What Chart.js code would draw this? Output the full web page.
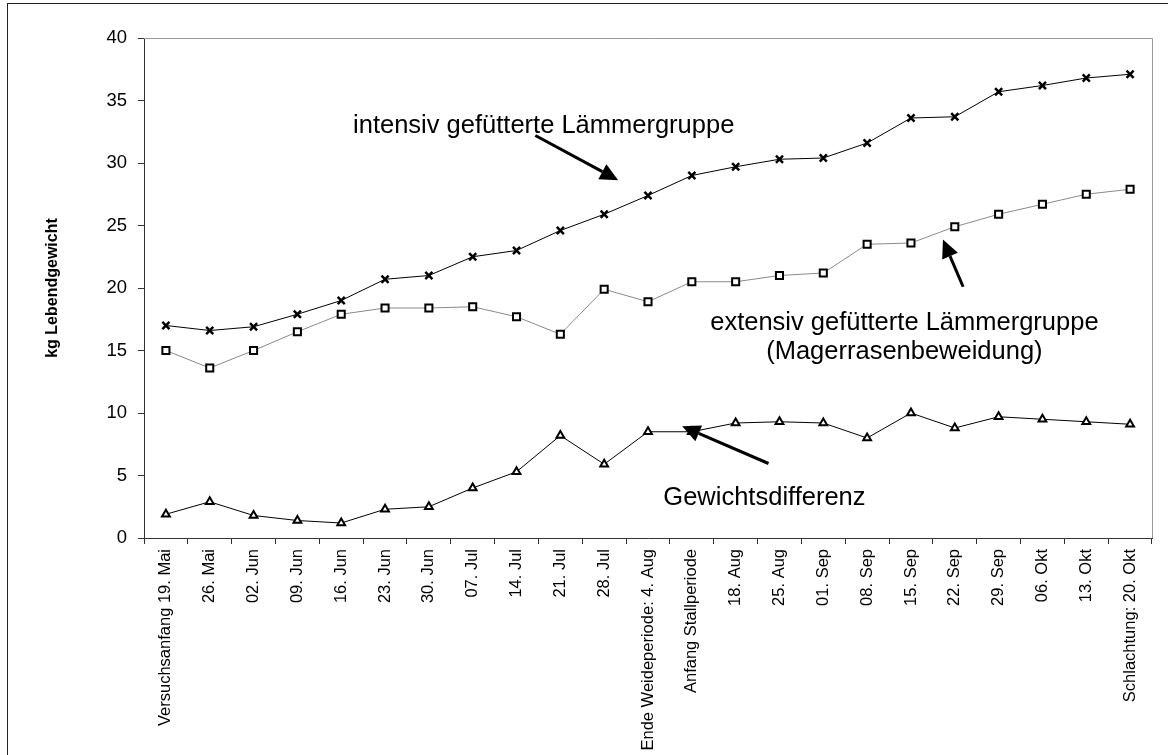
<!DOCTYPE html>
<html>
<head>
<meta charset="utf-8">
<script src="https://cdn.jsdelivr.net/npm/chart.js@4.4.1/dist/chart.umd.min.js"></script>
<style>
  html, body { margin: 0; padding: 0; background: #fff; }
  canvas { display: block; }
</style>
</head>
<body>
<canvas id="chart" width="1168" height="755"></canvas>
<script>
// --------- Data ----------
const dates = [
  "Versuchsanfang 19. Mai", "26. Mai", "02. Jun", "09. Jun", "16. Jun", "23. Jun",
  "30. Jun", "07. Jul", "14. Jul", "21. Jul", "28. Jul", "Ende Weideperiode: 4. Aug",
  "Anfang Stallperiode", "18. Aug", "25. Aug", "01. Sep", "08. Sep", "15. Sep",
  "22. Sep", "29. Sep", "06. Okt", "13. Okt", "Schlachtung: 20. Okt"
];
const intensiv = [17.0, 16.6, 16.9, 17.9, 19.0, 20.7, 21.0, 22.5, 23.0, 24.6, 25.9, 27.4,
  29.0, 29.7, 30.3, 30.4, 31.6, 33.6, 33.7, 35.7, 36.2, 36.8, 37.1];
const extensiv = [15.0, 13.6, 15.0, 16.5, 17.9, 18.4, 18.4, 18.5, 17.7, 16.3, 19.9, 18.9,
  20.5, 20.5, 21.0, 21.2, 23.5, 23.6, 24.9, 25.9, 26.7, 27.5, 27.9];
const differenz = [1.9, 2.9, 1.8, 1.4, 1.2, 2.3, 2.5, 4.0, 5.3, 8.2, 5.9, 8.5,
  8.5, 9.2, 9.3, 9.2, 8.0, 10.0, 8.8, 9.7, 9.5, 9.3, 9.1];

const yMin = 0;
const yMax = 40;
const yStep = 5;

// annotation texts, placed in data space (category index, kg)
const notes = [
  { lines: ["intensiv gefütterte Lämmergruppe"], x: 4.27, y: 32.44, align: "left" },
  { lines: ["extensiv gefütterte Lämmergruppe", "(Magerrasenbeweidung)"], x: 16.85, y: 16.68, align: "center" },
  { lines: ["Gewichtsdifferenz"], x: 11.35, y: 2.68, align: "left" }
];
const arrows = [
  { from: [8.43, 32.2], to: [10.32, 28.62] },
  { from: [18.19, 20.1], to: [17.73, 23.88] },
  { from: [13.75, 5.96], to: [11.78, 8.94] }
];

const FONT = "'Liberation Sans', Arial, sans-serif";

// --------- Plugins ----------
const framePlugin = {
  id: "frame",
  beforeDatasetsDraw(chart) {
    const { ctx, chartArea: a } = chart;
    ctx.save();
    // outer chart frame
    ctx.strokeStyle = "#222";
    ctx.lineWidth = 1;
    ctx.strokeRect(7.5, 3.5, 1200, 800);
    // plot area border (top + right)
    ctx.strokeStyle = "#999";
    ctx.beginPath();
    ctx.moveTo(a.left, Math.round(a.top) + 0.5);
    ctx.lineTo(Math.round(a.right) + 0.5, Math.round(a.top) + 0.5);
    ctx.lineTo(Math.round(a.right) + 0.5, a.bottom);
    ctx.stroke();
    ctx.restore();
  }
};

const notesPlugin = {
  id: "notes",
  afterDatasetsDraw(chart) {
    const { ctx, scales } = chart;
    const x = scales.x, y = scales.y;
    const px = (i) => x.getPixelForValue(i);
    ctx.save();
    ctx.fillStyle = "#000";
    ctx.font = "25.5px " + FONT;
    ctx.textBaseline = "alphabetic";
    notes.forEach((n) => {
      ctx.textAlign = n.align;
      n.lines.forEach((line, k) => {
        ctx.fillText(line, px(n.x), y.getPixelForValue(n.y) + k * 29);
      });
    });

    ctx.strokeStyle = "#000";
    ctx.lineWidth = 3;
    arrows.forEach((a) => {
      const x1 = px(a.from[0]), y1 = y.getPixelForValue(a.from[1]);
      const x2 = px(a.to[0]), y2 = y.getPixelForValue(a.to[1]);
      const ang = Math.atan2(y2 - y1, x2 - x1);
      const len = 18, half = 8.5;
      const bx = x2 - len * Math.cos(ang), by = y2 - len * Math.sin(ang);
      ctx.beginPath();
      ctx.moveTo(x1, y1);
      ctx.lineTo(bx, by);
      ctx.stroke();
      ctx.beginPath();
      ctx.moveTo(x2, y2);
      ctx.lineTo(bx + half * Math.sin(ang), by - half * Math.cos(ang));
      ctx.lineTo(bx - half * Math.sin(ang), by + half * Math.cos(ang));
      ctx.closePath();
      ctx.fill();
    });
    ctx.restore();
  }
};

// --------- Chart ----------
new Chart(document.getElementById("chart"), {
  type: "line",
  data: {
    labels: dates,
    datasets: [
      {
        label: "intensiv",
        data: intensiv,
        borderColor: "#000",
        borderWidth: 1,
        pointStyle: "crossRot",
        pointRadius: 5,
        pointBorderWidth: 2.5,
        pointBorderColor: "#000",
        tension: 0,
      },
      {
        label: "extensiv",
        data: extensiv,
        borderColor: "#8a8a8a",
        borderWidth: 1,
        pointStyle: "rect",
        pointRadius: 5,
        pointBorderWidth: 2,
        pointBorderColor: "#000",
        pointBackgroundColor: "#fff",
        tension: 0,
      },
      {
        label: "Gewichtsdifferenz",
        data: differenz,
        borderColor: "#000",
        borderWidth: 1,
        pointStyle: "triangle",
        pointRadius: 4.5,
        pointBorderWidth: 2,
        pointBorderColor: "#000",
        pointBackgroundColor: "#fff",
        tension: 0,
      },
    ],
  },
  options: {
    responsive: false,
    animation: false,
    layout: { padding: { left: 0, top: 38, right: 16, bottom: 0 } },
    plugins: {
      legend: { display: false },
      tooltip: { enabled: false },
    },
    scales: {
      x: {
        type: "category",
        offset: true,
        grid: {
          offset: true,
          drawOnChartArea: false,
          drawTicks: true,
          tickLength: 6,
          color: "#333",
        },
        border: { color: "#333", width: 1 },
        ticks: {
          autoSkip: false,
          maxRotation: 90,
          minRotation: 90,
          padding: 5,
          color: "#000",
          font: { family: FONT, size: 16.5 },
        },
        afterFit(scale) { scale.height = 217; },
      },
      y: {
        min: yMin,
        max: yMax,
        grid: {
          drawOnChartArea: false,
          drawTicks: true,
          tickLength: 6,
          color: "#333",
        },
        border: { color: "#333", width: 1 },
        ticks: {
          stepSize: yStep,
          padding: 11,
          color: "#000",
          font: { family: FONT, size: 18.5 },
        },
        title: {
          display: true,
          text: "kg Lebendgewicht",
          color: "#000",
          font: { family: FONT, size: 16, weight: "bold" },
          padding: { top: 43, bottom: 0 },
        },
        afterFit(scale) { scale.width = 144; },
      },
    },
  },
  plugins: [framePlugin, notesPlugin],
});
</script>
</body>
</html>
